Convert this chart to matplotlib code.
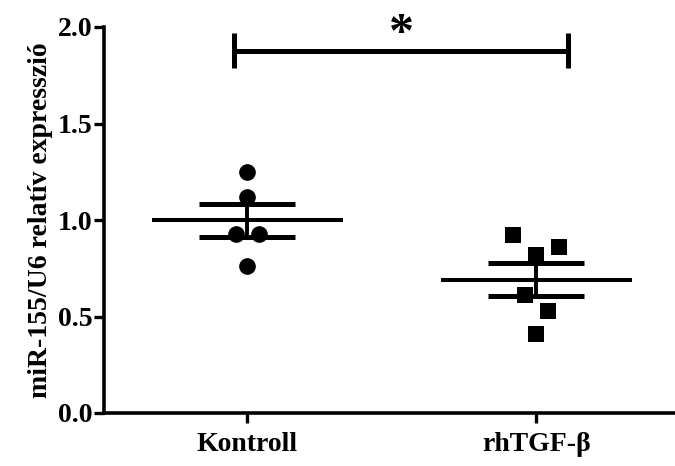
import numpy as np
import matplotlib
matplotlib.use("Agg")
import matplotlib.pyplot as plt

# data
groups = ["Kontroll", "rhTGF-β"]
kontroll = [1.25, 1.12, 0.93, 0.93, 0.76]
kontroll_jitter = [0.0, 0.0, -0.04, 0.04, 0.0]
rhtgf = [0.92, 0.82, 0.86, 0.61, 0.53, 0.41]
rhtgf_jitter = [-0.08, 0.0, 0.08, -0.04, 0.04, 0.0]
yticks = [0.0, 0.5, 1.0, 1.5, 2.0]
ylabel = "miR-155/U6 relatív expresszió"
sig_label = "*"

plt.rcParams["font.family"] = ["Liberation Serif", "DejaVu Serif"]
plt.rcParams["font.weight"] = "bold"

fig = plt.figure(figsize=(6.75, 4.66), dpi=100)
ax = fig.add_axes([104/675, 53/466, 1 - 104/675, (413 - 27)/466])

series = [(kontroll, kontroll_jitter, "o", 12), (rhtgf, rhtgf_jitter, "s", 11.5)]
for i, (vals, jit, mk, ms) in enumerate(series):
    vals = np.array(vals)
    xs = i + np.array(jit)
    ax.plot(xs, vals, linestyle="none", marker=mk, markersize=ms,
            color="black", markeredgewidth=0, zorder=3)
    mean = vals.mean()
    sem = vals.std(ddof=1) / np.sqrt(len(vals))
    ax.plot([i - 0.33, i + 0.33], [mean, mean], color="black", lw=2.9,
            solid_capstyle="butt", zorder=2)
    for v in (mean - sem, mean + sem):
        ax.plot([i - 0.166, i + 0.166], [v, v], color="black", lw=3.6,
                solid_capstyle="butt", zorder=2)
    ax.plot([i, i], [mean - sem, mean + sem], color="black", lw=2.8,
            solid_capstyle="butt", zorder=2)

# significance bar
x1, x2, ybar = -0.045, 1.11, 1.878
ax.plot([x1, x2], [ybar, ybar], color="black", lw=3.6, clip_on=False,
        solid_capstyle="butt")
for xx in (x1, x2):
    ax.plot([xx, xx], [1.79, 1.97], color="black", lw=3.6, clip_on=False,
            solid_capstyle="butt")
ax.text((x1 + x2) / 2, 1.895, sig_label, ha="center", va="baseline",
        fontsize=36, fontweight="bold", clip_on=False)

ax.set_xlim(-0.495, 1.48)
ax.set_ylim(0, 2.0)
ax.set_yticks(yticks)
ax.set_yticklabels([f"{t:.1f}" for t in yticks], fontsize=20, fontweight="bold")
ax.set_xticks([0, 1])
ax.set_xticklabels(groups, fontsize=20, fontweight="bold")
ax.set_ylabel(ylabel, fontsize=20, fontweight="bold", labelpad=3)

for side in ("top", "right"):
    ax.spines[side].set_visible(False)
for side in ("left", "bottom"):
    ax.spines[side].set_linewidth(2.6)
ax.tick_params(axis="both", length=7.5, width=2.4, color="black")
ax.tick_params(axis="y", pad=1)
ax.tick_params(axis="x", pad=6)

fig.savefig("out.png", dpi=100)
